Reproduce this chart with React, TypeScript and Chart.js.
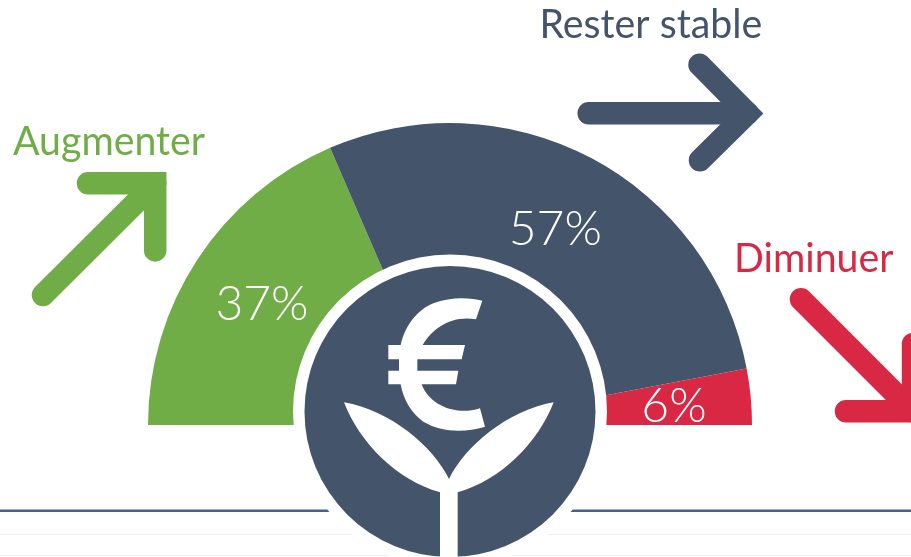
import React, { useEffect, useRef } from "react";
import { Chart, registerables } from "chart.js";

Chart.register(...registerables);

const categories = ["Augmenter", "Rester stable", "Diminuer"];
const values = [37, 57, 6];
const colors = ["#70AD47", "#44546A", "#D92843"];

const NAVY = "#44546A";
const RULE = "#44628F";
const HAIR = "#F0F0F0";
const CX = 450;
const CY = 411.5;

type P = [number, number];

function stroke(ctx: any, color: string, paths: P[][]) {
  ctx.save();
  ctx.strokeStyle = color;
  ctx.lineWidth = 22.5;
  ctx.lineCap = "round";
  ctx.lineJoin = "miter";
  ctx.miterLimit = 10;
  for (const p of paths) {
    ctx.beginPath();
    p.forEach(([x, y], i) => (i ? ctx.lineTo(x, y) : ctx.moveTo(x, y)));
    ctx.stroke();
  }
  ctx.restore();
}

function emblem(ctx: any) {
  ctx.save();
  ctx.fillStyle = "#fff";
  ctx.beginPath();
  ctx.arc(CX, CY, 157, 0, Math.PI * 2);
  ctx.fill();
  ctx.fillStyle = NAVY;
  ctx.beginPath();
  ctx.arc(CX, CY, 145.5, 0, Math.PI * 2);
  ctx.fill();

  // artwork traced at 3x around (280,240)
  ctx.translate(280, 240);
  ctx.scale(1 / 3, 1 / 3);
  ctx.fillStyle = "#fff";

  ctx.beginPath();
  ctx.moveTo(607, 182);
  ctx.bezierCurveTo(570, 172, 510, 170, 460, 190);
  ctx.bezierCurveTo(415, 208, 375, 255, 362, 315);
  ctx.lineTo(325, 315);
  ctx.lineTo(325, 358);
  ctx.lineTo(357, 358);
  ctx.lineTo(357, 392);
  ctx.lineTo(325, 392);
  ctx.lineTo(325, 433);
  ctx.lineTo(362, 433);
  ctx.bezierCurveTo(370, 480, 395, 520, 430, 545);
  ctx.bezierCurveTo(480, 575, 550, 580, 615, 560);
  ctx.lineTo(600, 505);
  ctx.bezierCurveTo(520, 530, 445, 490, 425, 433);
  ctx.lineTo(528, 433);
  ctx.lineTo(535, 392);
  ctx.lineTo(412, 392);
  ctx.lineTo(412, 358);
  ctx.lineTo(545, 358);
  ctx.lineTo(555, 315);
  ctx.lineTo(428, 315);
  ctx.bezierCurveTo(460, 260, 520, 225, 588, 238);
  ctx.closePath();
  ctx.fill();

  ctx.beginPath();
  ctx.moveTo(192, 487);
  ctx.bezierCurveTo(330, 510, 460, 620, 507, 717);
  ctx.bezierCurveTo(554, 620, 684, 510, 821, 487);
  ctx.bezierCurveTo(773, 610, 663, 720, 533, 757);
  ctx.lineTo(533, 960);
  ctx.lineTo(480, 960);
  ctx.lineTo(480, 757);
  ctx.bezierCurveTo(350, 720, 240, 610, 192, 487);
  ctx.closePath();
  ctx.fill();
  ctx.restore();
}

const backdrop = {
  id: "backdrop",
  beforeDatasetsDraw(chart: any) {
    const ctx = chart.ctx;
    ctx.save();
    ctx.fillStyle = RULE;
    ctx.fillRect(0, 509.5, 911, 2.5);
    ctx.fillStyle = HAIR;
    ctx.fillRect(0, 534, 911, 1);
    ctx.fillRect(0, 555, 911, 1);
    ctx.restore();
  },
  afterDatasetsDraw(chart: any) {
    const ctx = chart.ctx;
    emblem(ctx);

    // value labels on the ring
    const arcs = chart.getDatasetMeta(0).data;
    ctx.save();
    ctx.fillStyle = "#fff";
    ctx.font = '300 48px Lato, "Open Sans", sans-serif';
    ctx.textAlign = "center";
    ctx.textBaseline = "middle";
    arcs.forEach((a: any, i: number) => {
      const mid = (a.startAngle + a.endAngle) / 2;
      ctx.fillText(`${values[i]}%`, a.x + Math.cos(mid) * 225, a.y + Math.sin(mid) * 225 + 3);
    });
    ctx.restore();

    // category captions
    const captions: [number, number][] = [[13, 155], [539.5, 38], [734, 272]];
    categories.forEach((c, i) => {
      ctx.save();
      ctx.font = '41px Lato, "Open Sans", sans-serif';
      ctx.textBaseline = "alphabetic";
      ctx.textAlign = "left";
      ctx.fillStyle = colors[i];
      ctx.translate(captions[i][0], captions[i][1]);
      ctx.scale(0.958, 1);
      ctx.fillText(c, 0, 0);
      ctx.restore();
    });

    // direction arrows
    stroke(ctx, colors[0], [[[88, 183.3], [155.2, 183.3], [155.2, 250.4]], [[43, 295], [155.2, 183.3]]]);
    stroke(ctx, colors[1], [[[699.5, 64.7], [747.5, 113.3], [700, 160.3]], [[588.7, 113.3], [747.5, 113.3]]]);
    stroke(ctx, colors[2], [[[846, 411.3], [913, 411.3], [913, 344]], [[801, 299.3], [913, 411.3]]]);
  },
};

export default function App() {
  const ref = useRef<HTMLCanvasElement>(null);
  useEffect(() => {
    const chart = new Chart(ref.current as HTMLCanvasElement, {
      type: "doughnut",
      data: {
        labels: categories,
        datasets: [{ data: values, backgroundColor: colors, borderWidth: 0 }],
      },
      options: {
        animation: false,
        responsive: false,
        rotation: -90,
        circumference: 180,
        cutout: "50%",
        layout: { padding: { left: 148, right: 159, top: 123, bottom: 132 } },
        plugins: { legend: { display: false }, tooltip: { enabled: false } },
      },
      plugins: [backdrop],
    } as any);
    return () => chart.destroy();
  }, []);
  return (
    <div style={{ position: "fixed", left: 0, top: 0, width: 911, height: 557, background: "#fff" }}>
      <canvas ref={ref} width={911} height={557} style={{ display: "block" }} />
    </div>
  );
}
